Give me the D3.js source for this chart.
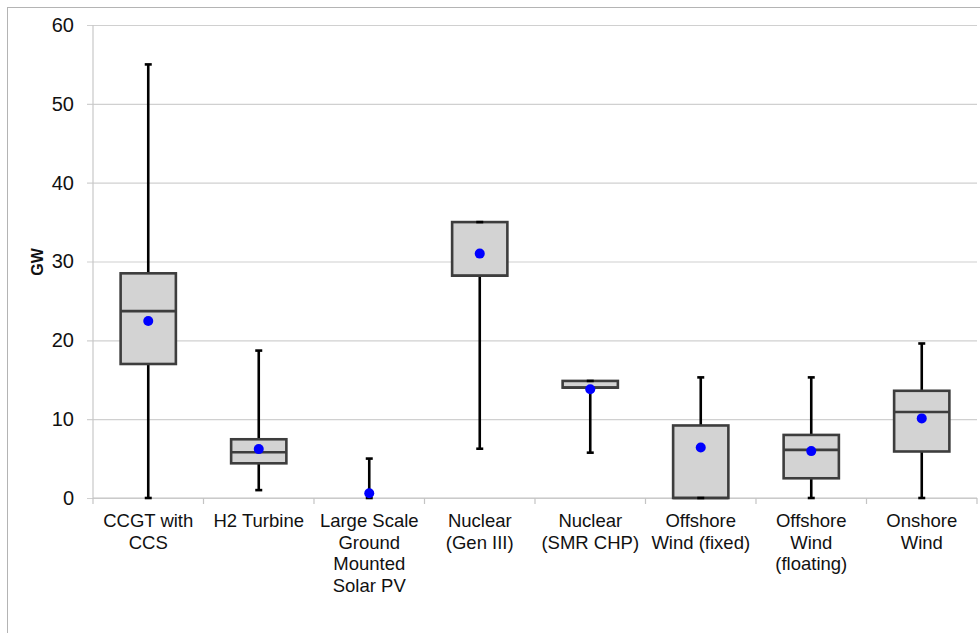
<!DOCTYPE html>
<html>
<head>
<meta charset="utf-8">
<script src="https://cdn.jsdelivr.net/npm/d3@7"></script>
<style>
  html, body { margin: 0; padding: 0; background: #fff; }
  svg { display: block; font-family: "Liberation Sans", Arial, sans-serif; }
</style>
</head>
<body>
<svg id="chart" width="980" height="633"></svg>
<script>
// Technology categories (line breaks mark label wrapping)
const categories = [
  "CCGT with\nCCS",
  "H2 Turbine",
  "Large Scale\nGround\nMounted\nSolar PV",
  "Nuclear\n(Gen III)",
  "Nuclear\n(SMR CHP)",
  "Offshore\nWind (fixed)",
  "Offshore\nWind\n(floating)",
  "Onshore\nWind"
];

// Box-plot statistics, GW
const whiskerMin = [0, 1.0, 0, 6.25, 5.75, 0, 0, 0];
const quartile1  = [17.0, 4.4, 0, 28.2, 14.0, 0, 2.5, 5.9];
const median     = [23.7, 5.8, 0, 28.2, 14.0, 0, 6.1, 10.9];
const quartile3  = [28.5, 7.45, 0, 35.0, 14.85, 9.2, 8.0, 13.6];
const whiskerMax = [55.0, 18.7, 5.0, 35.0, 14.85, 15.3, 15.3, 19.6];
const mean       = [22.45, 6.2, 0.6, 31.0, 13.8, 6.4, 5.95, 10.1];

const yTicks = [0, 10, 20, 30, 40, 50, 60];
const yLabel = "GW";

const rows = categories.map((c, i) => ({
  cat: c, lo: whiskerMin[i], q1: quartile1[i], med: median[i],
  q3: quartile3[i], hi: whiskerMax[i], mean: mean[i]
}));

const svg = d3.select("#chart");

// outer chart frame
svg.append("rect")
  .attr("x", 7.5).attr("y", 7.5)
  .attr("width", 1000).attr("height", 1000)
  .attr("fill", "none").attr("stroke", "#b4b4b4").attr("stroke-width", 1);

const plot = { left: 93, right: 977, top: 25, bottom: 498 };

const x = d3.scaleBand()
  .domain(categories)
  .range([plot.left, plot.right])
  .paddingInner(0).paddingOuter(0);

const y = d3.scaleLinear()
  .domain([0, 60])
  .range([plot.bottom, plot.top]);

// horizontal gridlines with left tick stubs
const yAxis = d3.axisLeft(y)
  .tickValues(yTicks)
  .tickSize(-(plot.right - plot.left))
  .tickPadding(19);
const gy = svg.append("g")
  .attr("transform", `translate(${plot.left},0)`)
  .call(yAxis);
gy.select(".domain").remove();
gy.selectAll(".tick line")
  .attr("x1", -6)
  .attr("stroke", "#d0d0d0").attr("stroke-width", 1.2);
gy.selectAll(".tick text")
  .attr("fill", "#111").attr("font-size", 20);

// y axis line
svg.append("line")
  .attr("x1", plot.left).attr("x2", plot.left)
  .attr("y1", plot.top).attr("y2", plot.bottom)
  .attr("stroke", "#c8c8c8").attr("stroke-width", 1.2);

// x axis: baseline with separators between categories
const gx = svg.append("g").attr("transform", `translate(0,${plot.bottom})`);
gx.append("line")
  .attr("x1", plot.left).attr("x2", plot.right)
  .attr("stroke", "#c4c4c4").attr("stroke-width", 1.2);
const bounds = categories.map(c => x(c)).concat([x(categories[categories.length - 1]) + x.bandwidth()]);
gx.selectAll("line.sep").data(bounds).join("line")
  .attr("class", "sep")
  .attr("x1", d => d).attr("x2", d => d)
  .attr("y1", 0).attr("y2", 6)
  .attr("stroke", "#c4c4c4").attr("stroke-width", 1.2);

// category labels
const labels = svg.append("g");
rows.forEach(r => {
  const t = labels.append("text")
    .attr("x", x(r.cat) + x.bandwidth() / 2)
    .attr("y", 527)
    .attr("text-anchor", "middle")
    .attr("font-size", 18.5)
    .attr("fill", "#111");
  r.cat.split("\n").forEach((line, j) => {
    t.append("tspan")
      .attr("x", x(r.cat) + x.bandwidth() / 2)
      .attr("dy", j === 0 ? 0 : 21.7)
      .text(line);
  });
});

// y axis title
svg.append("text")
  .attr("transform", `translate(43,262) rotate(-90)`)
  .attr("text-anchor", "middle")
  .attr("font-size", 16)
  .attr("font-weight", "bold")
  .attr("fill", "#111")
  .text(yLabel);

const boxW = x.bandwidth() / 2;
const cx = d => x(d.cat) + x.bandwidth() / 2;
const capW = 7;

// whiskers
const marks = svg.append("g");
marks.selectAll("line.whisker").data(rows).join("line")
  .attr("class", "whisker")
  .attr("x1", cx).attr("x2", cx)
  .attr("y1", d => y(d.lo)).attr("y2", d => y(d.hi))
  .attr("stroke", "#000").attr("stroke-width", 2.6);

// boxes
marks.selectAll("rect.box").data(rows.filter(d => d.q3 > d.q1)).join("rect")
  .attr("class", "box")
  .attr("x", d => cx(d) - boxW / 2)
  .attr("y", d => y(d.q3))
  .attr("width", boxW)
  .attr("height", d => y(d.q1) - y(d.q3))
  .attr("fill", "#d3d3d3")
  .attr("stroke", "#3d3d3d").attr("stroke-width", 2.6);

// medians
marks.selectAll("line.median").data(rows.filter(d => d.q3 > d.q1)).join("line")
  .attr("class", "median")
  .attr("x1", d => cx(d) - boxW / 2).attr("x2", d => cx(d) + boxW / 2)
  .attr("y1", d => y(d.med)).attr("y2", d => y(d.med))
  .attr("stroke", "#3d3d3d").attr("stroke-width", 2.6);

// whisker caps
["lo", "hi"].forEach(k => {
  marks.selectAll("line.cap-" + k).data(rows).join("line")
    .attr("class", "cap-" + k)
    .attr("x1", d => cx(d) - capW / 2).attr("x2", d => cx(d) + capW / 2)
    .attr("y1", d => y(d[k])).attr("y2", d => y(d[k]))
    .attr("stroke", "#000").attr("stroke-width", 2.6);
});

// mean markers
marks.selectAll("circle.mean").data(rows).join("circle")
  .attr("class", "mean")
  .attr("cx", cx)
  .attr("cy", d => y(d.mean))
  .attr("r", 5)
  .attr("fill", "#0000ff");
</script>
</body>
</html>
